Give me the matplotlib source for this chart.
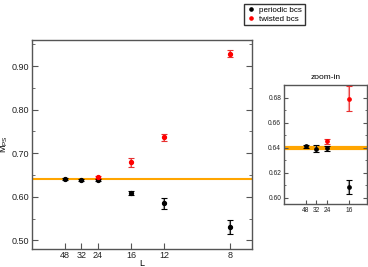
import numpy as np
import matplotlib
matplotlib.use("Agg")
import matplotlib.pyplot as plt
from matplotlib.lines import Line2D

# lattice sizes and masses
L_per = [48, 32, 24, 16, 12, 8]
m_per = [0.641, 0.639, 0.639, 0.608, 0.585, 0.530]
e_per = [0.0015, 0.002, 0.002, 0.005, 0.012, 0.016]

L_tw = [24, 16, 12, 8]
m_tw = [0.645, 0.679, 0.737, 0.928]
e_tw = [0.003, 0.010, 0.008, 0.008]

# zoom-in panel
Lz_per = [48, 32, 24, 16]
mz_per = [0.641, 0.639, 0.6395, 0.6085]
ez_per = [0.001, 0.0028, 0.0022, 0.0058]
Lz_tw = [24, 16]
mz_tw = [0.645, 0.679]
ez_tw = [0.0022, 0.010]

m_inf = 0.640

plt.rcParams['font.family'] = ['Liberation Sans', 'DejaVu Sans']
plt.rcParams['font.size'] = 6.5
plt.rcParams['mathtext.fontset'] = 'custom'
plt.rcParams['mathtext.rm'] = 'Liberation Sans'

fig = plt.figure(figsize=(3.68, 2.67), dpi=100)
ax = fig.add_axes([32/368, 1-249/267, 220/368, 209/267])
axz = fig.add_axes([284/368, 1-204/267, 83/368, 119/267])


def draw(a, Lp, mp, ep, Lt, mt, et, ms, cap, lw_line):
    a.axhline(m_inf, color='orange', lw=lw_line, zorder=1)
    xp = 1/np.array(Lp)
    xt = 1/np.array(Lt)
    a.errorbar(xp, mp, yerr=ep, fmt='none', ecolor='#999999', elinewidth=1.6, capsize=0, zorder=2)
    a.errorbar(xp, mp, yerr=ep, fmt='o', color='black', ms=ms, ecolor='black',
               elinewidth=0.6, capsize=cap, capthick=0.8, zorder=3)
    a.errorbar(xt, mt, yerr=et, fmt='none', ecolor='#f4a0a0', elinewidth=1.6, capsize=0, zorder=2)
    a.errorbar(xt, mt, yerr=et, fmt='o', color='red', ms=ms, ecolor='#e83030',
               elinewidth=0.6, capsize=cap, capthick=0.8, zorder=3)
    for s in a.spines.values():
        s.set_color('#555555')
        s.set_linewidth(1.0)


draw(ax, L_per, m_per, e_per, L_tw, m_tw, e_tw, 2.8, 2.5, 1.5)
ax.set_xlim(0, 0.139)
ax.set_ylim(0.48, 0.96)
ax.set_xticks(1/np.array(L_per))
ax.set_xticklabels([str(l) for l in L_per])
ax.set_yticks([0.5, 0.6, 0.7, 0.8, 0.9])
ax.set_yticklabels(['0.50', '0.60', '0.70', '0.80', '0.90'])
ax.set_yticks(np.arange(0.55, 0.96, 0.1), minor=True)
ax.tick_params(axis='y', which='both', direction='in', left=True, right=True, colors='#555555',
               labelcolor='#222222', pad=2)
ax.tick_params(axis='y', which='major', length=4)
ax.tick_params(axis='y', which='minor', length=2)
ax.tick_params(axis='x', direction='in', length=4, colors='#555555', labelcolor='#222222', pad=1.5)
ax.set_xlabel('L', labelpad=-1)
ax.set_ylabel(r'M$_{\rm PS}$', labelpad=1)

handles = [Line2D([], [], ls='none', marker='o', color='black', ms=2.3),
           Line2D([], [], ls='none', marker='o', color='red', ms=2.3)]
fig.legend(handles, ['periodic bcs', 'twisted bcs'], loc='upper left',
           bbox_to_anchor=(240/368, 1.0), fancybox=False, edgecolor='#333333',
           framealpha=1, handletextpad=0.4, borderpad=0.3, labelspacing=0.15,
           handlelength=1.2, fontsize=5.8)

draw(axz, Lz_per, mz_per, ez_per, Lz_tw, mz_tw, ez_tw, 2.4, 2.2, 3.0)
axz.set_xlim(0, 0.08)
axz.set_ylim(0.595, 0.69)
axz.set_xticks(1/np.array(Lz_per))
axz.set_xticklabels([str(l) for l in Lz_per])
axz.set_yticks([0.60, 0.62, 0.64, 0.66, 0.68])
axz.set_yticks([0.61, 0.63, 0.65, 0.67], minor=True)
axz.tick_params(axis='y', which='both', direction='in', left=True, right=True, colors='#555555',
                labelcolor='#222222', labelsize=4.8, pad=2)
axz.tick_params(axis='y', which='major', length=3)
axz.tick_params(axis='y', which='minor', length=1.5)
axz.tick_params(axis='x', direction='in', length=3, colors='#555555', labelcolor='#222222',
                labelsize=4.8, pad=2)
axz.set_title('zoom-in', fontsize=6, pad=4)

fig.savefig('out.png', dpi=100)
